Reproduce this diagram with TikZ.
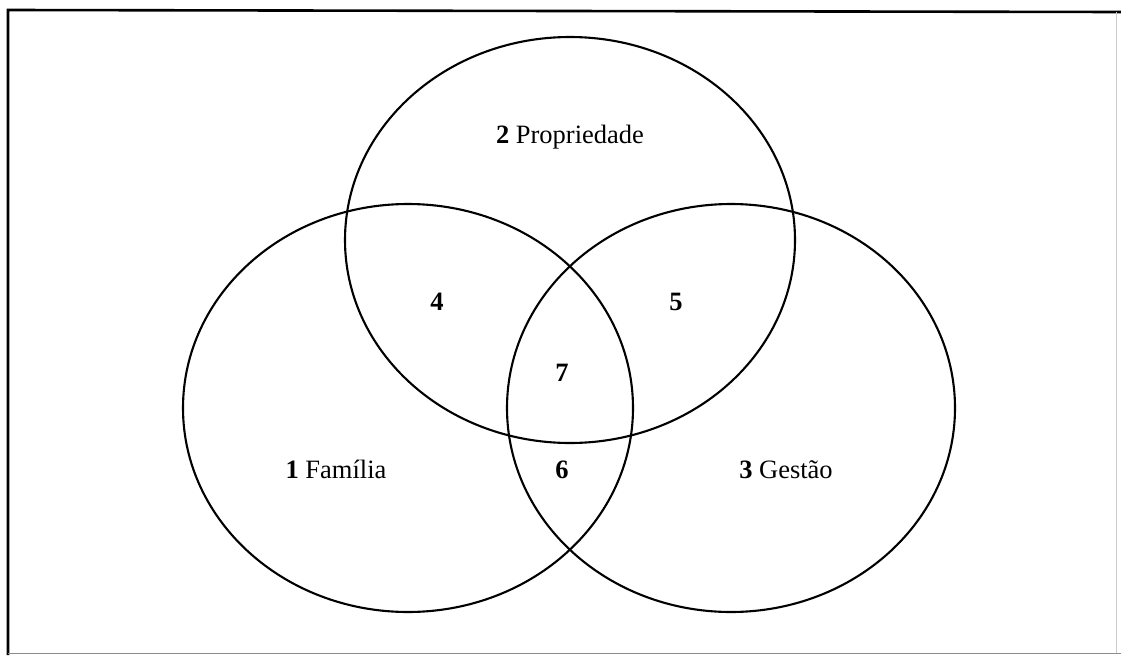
\documentclass[tikz,border=0pt]{standalone}
\usepackage{fontspec}
\setmainfont{Liberation Serif}
\usetikzlibrary{shapes.geometric}
\begin{document}
\begin{tikzpicture}[x=1pt,y=-1pt,
  venn/.style={draw=black,line width=2.1pt,ellipse,inner sep=0pt,outer sep=0pt},
  lbl/.style={font=\fontsize{26.5}{30}\selectfont,inner sep=0pt,anchor=base},
  num/.style={font=\fontsize{26.5}{30}\selectfont\bfseries,inner sep=0pt,anchor=base}]
\useasboundingbox (0,0) rectangle (1121,656);
% frame
\draw[line width=2.6pt] (8,655) -- (8,10) -- (1121,12);
\draw[line width=1pt,black!45] (8,653) -- (1121,653);
\draw[line width=0.8pt,black!20] (1116,12) -- (1116,653);
% circles
\node[venn,minimum width=450pt,minimum height=406pt] (prop) at (570,240) {};
\node[venn,minimum width=450pt,minimum height=408pt] (fam) at (408,408) {};
\node[venn,minimum width=448pt,minimum height=408pt] (gest) at (731,408) {};
% labels
\node[lbl] (t2) at (570,143) {\textbf{2} Propriedade};
\node[lbl] (t1) at (336,478) {\textbf{1} Família};
\node[lbl] (t3) at (786,478) {\textbf{3} Gestão};
\node[num] (n4) at (437,310) {4};
\node[num] (n5) at (676,310) {5};
\node[num] (n7) at (562,381) {7};
\node[num] (n6) at (562,478) {6};
\end{tikzpicture}
\end{document}
